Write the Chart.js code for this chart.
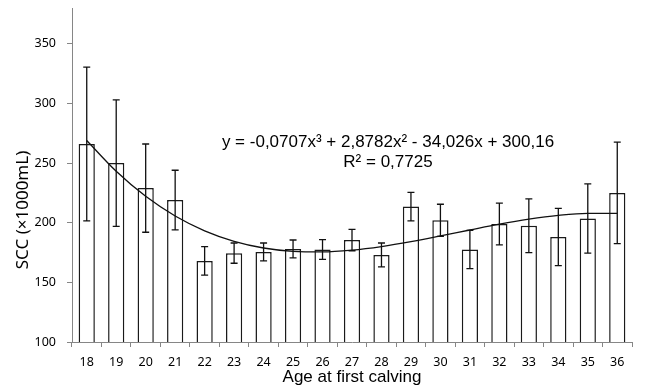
<!DOCTYPE html>
<html lang="en">
<head>
    <meta charset="UTF-8">
    <title>SCC by age at first calving</title>
    <style type="text/css">
        body{
            margin: 0;
            background: #fff;
        }
    </style>
    <script src="https://cdn.jsdelivr.net/npm/chart.js@4.4.1/dist/chart.umd.min.js"></script>
</head>
<body>
    <canvas id="myChart" width="650" height="391"></canvas>

    <script>
    // values
    const ages = ['18','19','20','21','22','23','24','25','26','27','28','29','30','31','32','33','34','35','36'];
    const scc = [266, 250, 229, 219, 168, 174.5, 175.5, 178, 177.5, 185.5, 173, 213.5, 202, 177.5, 199, 197.5, 188, 203.5, 225];
    const sccErr = [64.5, 53, 37, 25, 12, 8.5, 7.5, 7.5, 8.3, 9, 10, 12, 13.5, 16, 17.5, 22.5, 24, 29, 42.5];
    const trend = [268.9, 243.1, 222.1, 205.6, 193.2, 184.4, 178.8, 176.0, 175.5, 177.0, 180.0, 184.1, 188.9, 193.9, 198.8, 203.0, 206.2, 207.9, 207.8];
    const yTicks = [100, 150, 200, 250, 300, 350];
    const eqLine1 = 'y = -0,0707x³ + 2,8782x² - 34,026x + 300,16';
    const eqLine2 = 'R² = 0,7725';
    const yTitle = 'SCC (×1000mL)';
    const xTitle = 'Age at first calving';

    const axisGrey = '#868686';

    // error bars, equation and y title
    const extras = {
        id: 'extras',
        afterDatasetDraw(chart, args) {
            if (args.meta.type !== 'bar') return;
            const ctx = chart.ctx;
            const y = chart.scales.y;
            ctx.save();
            ctx.strokeStyle = '#111';
            ctx.lineWidth = 1.3;
            args.meta.data.forEach((bar, i) => {
                const top = y.getPixelForValue(scc[i] + sccErr[i]);
                const bot = y.getPixelForValue(scc[i] - sccErr[i]);
                ctx.beginPath();
                ctx.moveTo(bar.x, top);
                ctx.lineTo(bar.x, bot);
                ctx.moveTo(bar.x - 3.5, top);
                ctx.lineTo(bar.x + 3.5, top);
                ctx.moveTo(bar.x - 3.5, bot);
                ctx.lineTo(bar.x + 3.5, bot);
                ctx.stroke();
            });
            ctx.restore();
        },
        afterDraw(chart) {
            const ctx = chart.ctx;
            const area = chart.chartArea;
            ctx.save();
            ctx.fillStyle = '#000';
            ctx.textAlign = 'center';
            ctx.textBaseline = 'middle';
            ctx.font = '17px "Liberation Sans", Arial, sans-serif';
            ctx.fillText(eqLine1, area.left + 316, area.top + 134);
            ctx.fillText(eqLine2, area.left + 316, area.top + 154);

            ctx.translate(23, area.bottom - 132);
            ctx.rotate(-Math.PI / 2);
            ctx.font = '17px "Noto Sans", sans-serif';
            ctx.fillText(yTitle, 0, 0);
            ctx.restore();
        }
    };

    //setup block
    const data = {
        labels: ages,
        datasets: [{
            type: 'line',
            label: 'trend',
            data: trend,
            borderColor: '#111',
            borderWidth: 1.3,
            pointRadius: 0,
            fill: false,
            cubicInterpolationMode: 'monotone',
            order: 0
        }, {
            type: 'bar',
            label: 'SCC',
            data: scc,
            backgroundColor: '#fff',
            borderColor: '#1a1a1a',
            borderWidth: 1.5,
            barPercentage: 0.55,
            categoryPercentage: 1,
            order: 1
        }]
    };

    //config block
    const config = {
        data,
        options: {
            responsive: false,
            animation: false,
            layout: {
                padding: { top: 8, right: 18, left: 0, bottom: 0 }
            },
            plugins: {
                legend: { display: false },
                tooltip: { enabled: false }
            },
            scales: {
                x: {
                    grid: {
                        offset: true,
                        drawOnChartArea: false,
                        tickLength: 5,
                        color: axisGrey
                    },
                    border: { color: axisGrey },
                    ticks: {
                        color: '#000',
                        padding: 8,
                        maxRotation: 0,
                        font: { family: '"Noto Sans", sans-serif', size: 12.5 }
                    },
                    title: {
                        display: true,
                        text: xTitle,
                        color: '#000',
                        padding: { top: 0, bottom: 3 },
                        font: { family: '"Liberation Sans", Arial, sans-serif', size: 17 }
                    },
                    afterFit: scale => {
                        scale.height = 49;
                        scale.paddingLeft = 0;
                        scale.paddingRight = 0;
                    }
                },
                y: {
                    min: 100,
                    max: 380,
                    afterBuildTicks: scale => {
                        scale.ticks = yTicks.map(v => ({ value: v }));
                    },
                    grid: {
                        drawOnChartArea: false,
                        tickLength: 5,
                        color: axisGrey
                    },
                    border: { color: axisGrey },
                    ticks: {
                        color: '#000',
                        padding: 11,
                        font: { family: '"Noto Sans", sans-serif', size: 12.5 }
                    },
                    afterFit: scale => {
                        scale.width = 72;
                        scale.paddingTop = 0;
                        scale.paddingBottom = 0;
                    }
                }
            }
        },
        plugins: [extras]
    };

    //render init block
    const myChart = new Chart(
        document.getElementById('myChart'),
        config
    );
    </script>
</body>
</html>
